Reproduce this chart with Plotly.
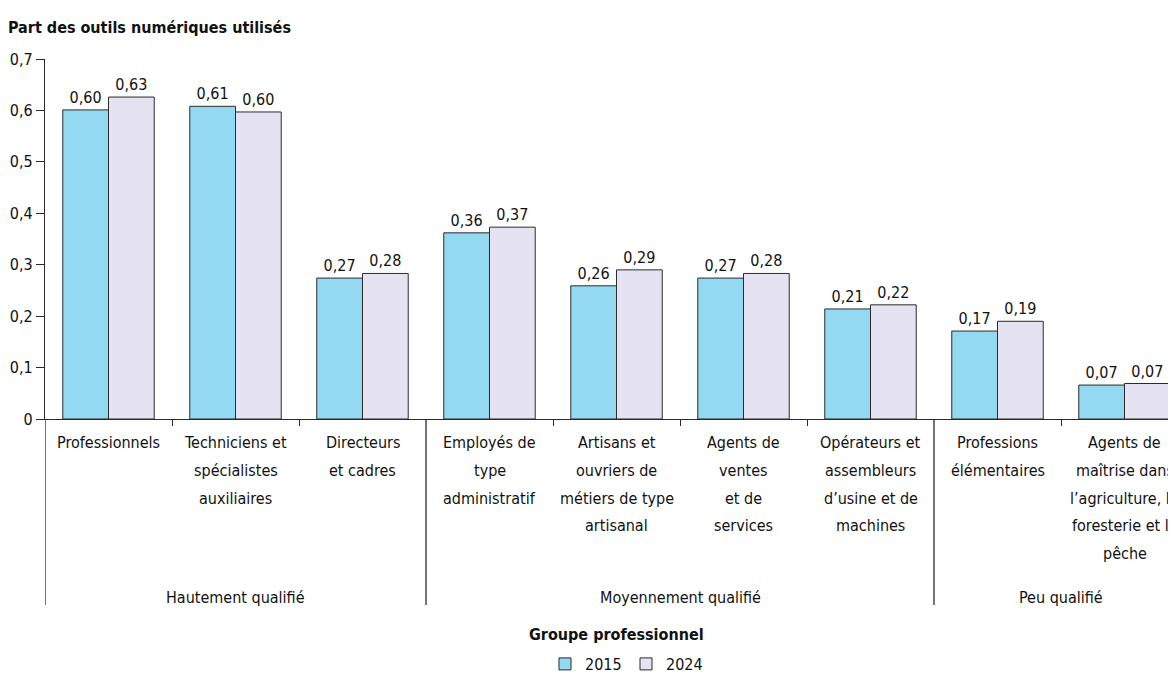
import plotly.graph_objects as go

categories = [
    "Professionnels",
    "Techniciens et\nspécialistes\nauxiliaires",
    "Directeurs\net cadres",
    "Employés de\ntype\nadministratif",
    "Artisans et\nouvriers de\nmétiers de type\nartisanal",
    "Agents de\nventes\net de\nservices",
    "Opérateurs et\nassembleurs\nd’usine et de\nmachines",
    "Professions\nélémentaires",
    "Agents de\nmaîtrise dans\nl’agriculture, la\nforesterie et la\npêche",
]
groups = ["Hautement qualifié", "Moyennement qualifié", "Peu qualifié"]
group_sizes = [3, 4, 2]
series_names = ["2015", "2024"]
values_2015 = [0.601, 0.608, 0.274, 0.362, 0.259, 0.274, 0.214, 0.171, 0.066]
values_2024 = [0.626, 0.597, 0.283, 0.373, 0.290, 0.283, 0.222, 0.190, 0.069]
y_ticks = [0, 0.1, 0.2, 0.3, 0.4, 0.5, 0.6, 0.7]

colors = ["#93D9F1", "#E5E3F2"]
FONT = "Liberation Sans Narrow, DejaVu Sans Condensed, Arial Narrow, sans-serif"
DARK = "#2b2b2b"

def fr(v, d):
    s = f"{v:.{d}f}".replace(".", ",")
    return "0" if v == 0 else s

x_idx = list(range(len(categories)))
fig = go.Figure()
for name, vals, col in zip(series_names, [values_2015, values_2024], colors):
    fig.add_trace(go.Bar(
        x=x_idx, y=vals, name=name,
        marker=dict(color=col, line=dict(color=DARK, width=1)),
        text=[fr(v, 2) for v in vals], textposition="outside",
        textfont=dict(family=FONT, size=16, color="#111"),
        cliponaxis=False,
    ))

n = len(categories)
acc = 0
group_bounds = []
for s in group_sizes:
    acc += s
    group_bounds.append(acc - 0.5)
inner_ticks = [i + 0.5 for i in range(n - 1) if (i + 0.5) not in group_bounds]

annotations = []
LINE_H = 27.8
for i, lab in enumerate(categories):
    for j, line in enumerate(lab.split("\n")):
        annotations.append(dict(
            x=i, xref="x", y=0, yref="paper", yanchor="top", xanchor="center",
            yshift=-(12 + j * LINE_H), text=line, showarrow=False,
            font=dict(family=FONT, size=16, color="#111"),
        ))
start = 0
for g, s in zip(groups, group_sizes):
    center = start + (s - 1) / 2
    annotations.append(dict(
        x=center, xref="x", y=0, yref="paper", yanchor="top", xanchor="center",
        yshift=-(12 + 5 * LINE_H + 16), text=g, showarrow=False,
        font=dict(family=FONT, size=16, color="#111"),
    ))
    start += s
annotations.append(dict(
    x=(n - 1) / 2, xref="x", y=0, yref="paper", yanchor="top", xanchor="center",
    yshift=-204, text="<b>Groupe professionnel</b>", showarrow=False,
    font=dict(family=FONT, size=16, color="#111"),
))

PH = 360.0
bottom = -(605 - 419) / PH
shapes = [dict(type="line", xref="x", yref="paper", x0=-0.5, x1=-0.5, y0=0, y1=bottom,
               line=dict(color=DARK, width=1.3))]
for b in group_bounds:
    shapes.append(dict(type="line", xref="x", yref="paper", x0=b, x1=b, y0=0, y1=bottom,
                       line=dict(color=DARK, width=1.3)))

W, H = 1168, 675
fig.update_layout(
    width=W, height=H, autosize=False,
    margin=dict(l=37, r=0, t=51, b=264),
    plot_bgcolor="white", paper_bgcolor="white",
    barmode="group", bargap=0.28, bargroupgap=0,
    font=dict(family=FONT, size=16, color="#111"),
    title=dict(text="<b>Part des outils numériques utilisés</b>", x=0.0, xanchor="left",
               y=1 - 19 / H, yanchor="middle", yref="container",
               font=dict(family=FONT, size=16, color="#111")),
    xaxis=dict(range=[-0.5, -0.5 + 1131 / 127.0], showline=True, linecolor=DARK, linewidth=1.3,
               tickmode="array", tickvals=inner_ticks, ticktext=["" for _ in inner_ticks],
               ticks="outside", ticklen=6, tickcolor=DARK, tickwidth=1.3,
               showgrid=False, zeroline=False, fixedrange=True),
    yaxis=dict(range=[0, 0.7], showline=True, linecolor=DARK, linewidth=1.3,
               tickmode="array", tickvals=y_ticks, ticktext=[fr(v, 1) for v in y_ticks],
               ticks="outside", ticklen=8, tickcolor=DARK, tickwidth=1.3,
               tickfont=dict(family=FONT, size=16, color="#111"),
               showgrid=False, zeroline=False),
    legend=dict(orientation="h", xref="container", x=618 / W, xanchor="center",
                yref="container", y=1 - 656 / H, yanchor="middle",
                font=dict(family=FONT, size=16, color="#111"), traceorder="normal",
                itemwidth=30, entrywidth=36, entrywidthmode="pixels"),
    annotations=annotations, shapes=shapes,
)

fig.write_html("out.html")
